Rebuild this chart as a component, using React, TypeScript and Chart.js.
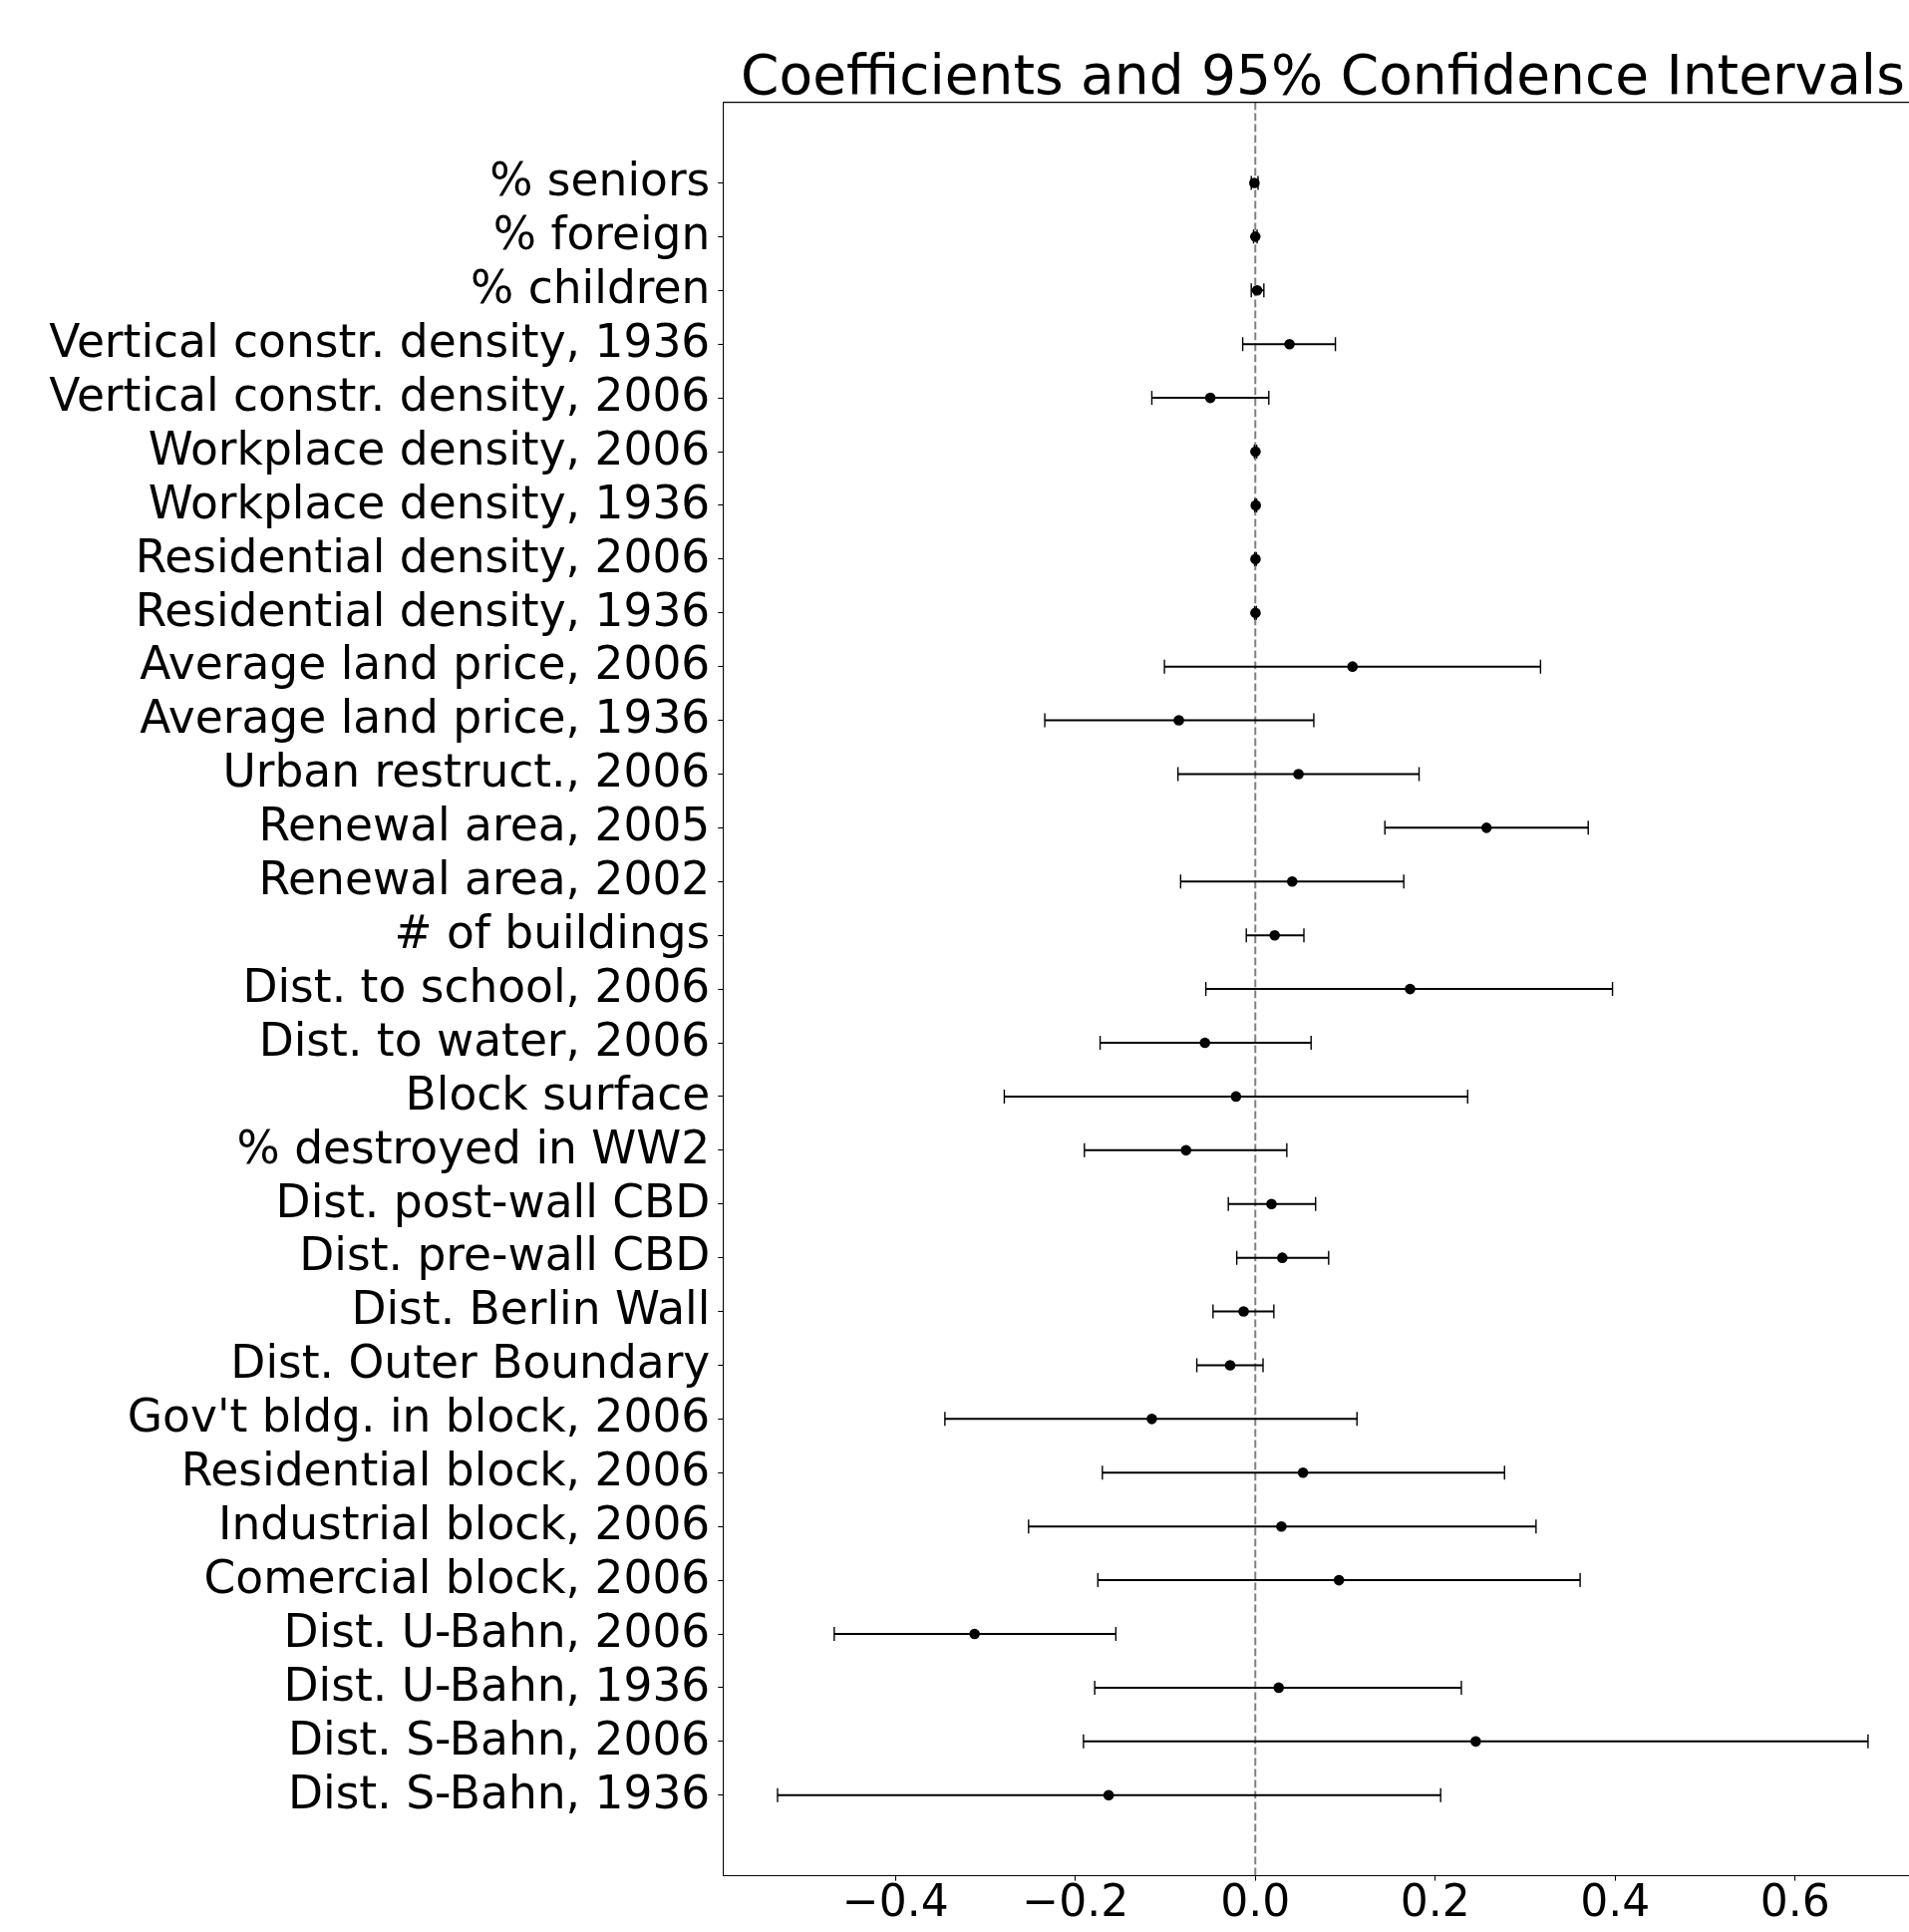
import { useEffect, useRef } from 'react';
import { Chart, registerables } from 'chart.js';

Chart.register(...registerables);

const TITLE = 'Coefficients and 95% Confidence Intervals';

const categories = [
  '% seniors',
  '% foreign',
  '% children',
  'Vertical constr. density, 1936',
  'Vertical constr. density, 2006',
  'Workplace density, 2006',
  'Workplace density, 1936',
  'Residential density, 2006',
  'Residential density, 1936',
  'Average land price, 2006',
  'Average land price, 1936',
  'Urban restruct., 2006',
  'Renewal area, 2005',
  'Renewal area, 2002',
  '# of buildings',
  'Dist. to school, 2006',
  'Dist. to water, 2006',
  'Block surface',
  '% destroyed in WW2',
  'Dist. post-wall CBD',
  'Dist. pre-wall CBD',
  'Dist. Berlin Wall',
  'Dist. Outer Boundary',
  "Gov't bldg. in block, 2006",
  'Residential block, 2006',
  'Industrial block, 2006',
  'Comercial block, 2006',
  'Dist. U-Bahn, 2006',
  'Dist. U-Bahn, 1936',
  'Dist. S-Bahn, 2006',
  'Dist. S-Bahn, 1936',
];

const coefficients = [
  -0.001, 0.0, 0.002, 0.038, -0.05, 0.0002, 0.0005, 0.0002, 0.0002,
  0.108, -0.085, 0.048, 0.257, 0.041, 0.0215, 0.172, -0.056,
  -0.0215, -0.077, 0.018, 0.03, -0.013, -0.028, -0.115,
  0.053, 0.029, 0.093, -0.312, 0.026, 0.245, -0.163,
];

const lowerBounds = [
  -0.0045, -0.002, -0.0045, -0.014, -0.115, -0.001, -0.0005, -0.0008, -0.0008,
  -0.101, -0.234, -0.086, 0.144, -0.083, -0.01, -0.055, -0.1725,
  -0.279, -0.19, -0.03, -0.0206, -0.047, -0.065, -0.345,
  -0.17, -0.252, -0.175, -0.468, -0.1785, -0.191, -0.531,
];

const upperBounds = [
  0.003, 0.002, 0.0095, 0.089, 0.015, 0.0015, 0.0015, 0.0012, 0.0012,
  0.317, 0.065, 0.182, 0.37, 0.165, 0.054, 0.397, 0.062,
  0.236, 0.035, 0.067, 0.0815, 0.0206, 0.0086, 0.113,
  0.277, 0.312, 0.361, -0.155, 0.229, 0.681, 0.206,
];

const xTickValues = [-0.4, -0.2, 0.0, 0.2, 0.4, 0.6];

const FONT = '"DejaVu Sans", sans-serif';

const framePlugin = {
  id: 'frameAndTitle',
  afterDraw(chart: any) {
    const { ctx, chartArea: a } = chart;
    ctx.save();
    ctx.strokeStyle = '#000';
    ctx.lineWidth = 1.1;
    ctx.beginPath();
    ctx.moveTo(a.left, a.top);
    ctx.lineTo(a.right, a.top);
    ctx.lineTo(a.right, a.bottom);
    ctx.stroke();
    ctx.fillStyle = '#000';
    ctx.font = `55px ${FONT}`;
    ctx.textAlign = 'center';
    ctx.textBaseline = 'alphabetic';
    ctx.fillText(TITLE, (a.left + a.right) / 2, a.top - 8.3);
    ctx.restore();
  },
};

export default function App() {
  const ref = useRef<HTMLCanvasElement>(null);

  useEffect(() => {
    const canvas = ref.current;
    if (!canvas) return;

    const lo = Math.min(...lowerBounds);
    const hi = Math.max(...upperBounds);
    const margin = 0.05 * (hi - lo);
    const yMin = -1.5;
    const yMax = categories.length - 1 + 1.5;

    const pointsDataset = {
      label: 'coef',
      data: coefficients.map((c, i) => ({ x: c, y: i })),
      pointRadius: 5.3,
      pointBackgroundColor: '#000',
      pointBorderWidth: 0,
      showLine: false,
    };

    const ciDatasets = categories.map((_, i) => ({
      label: 'ci' + i,
      data: [
        { x: lowerBounds[i], y: i },
        { x: upperBounds[i], y: i },
      ],
      showLine: true,
      borderColor: '#000',
      borderWidth: 2,
      pointStyle: 'line',
      rotation: 90,
      pointRadius: 7,
      pointBorderWidth: 1.4,
      pointBorderColor: '#000',
      pointBackgroundColor: '#000',
    }));

    const zeroLine = {
      label: 'zero',
      data: [
        { x: 0, y: yMin },
        { x: 0, y: yMax },
      ],
      showLine: true,
      borderColor: '#808080',
      borderWidth: 2,
      borderDash: [7.7, 3.3],
      pointRadius: 0,
    };

    const chart = new Chart(canvas, {
      type: 'scatter',
      data: {
        datasets: [pointsDataset, ...ciDatasets, zeroLine] as any,
      },
      options: {
        animation: false,
        responsive: false,
        devicePixelRatio: 1,
        events: [],
        layout: { padding: { top: 102.6, right: 11.4, bottom: 0, left: 0 } },
        plugins: {
          legend: { display: false },
          title: { display: false },
          tooltip: { enabled: false },
        },
        scales: {
          x: {
            type: 'linear',
            min: lo - margin,
            max: hi + margin,
            afterBuildTicks: (scale: any) => {
              scale.ticks = xTickValues.map((v) => ({ value: v }));
            },
            afterFit: (scale: any) => {
              scale.height = 56.4;
            },
            grid: {
              display: true,
              drawOnChartArea: false,
              drawTicks: true,
              tickLength: 5,
              tickWidth: 1.1,
              tickColor: '#000',
            },
            border: { display: true, color: '#000', width: 1.1 },
            ticks: {
              autoSkip: false,
              maxRotation: 0,
              padding: -2,
              color: '#000',
              font: { family: FONT, size: 44 },
              callback: (v: any) => {
                const n = Number(v);
                const s = Math.abs(n).toFixed(1);
                return n < -1e-9 ? '\u2212' + s : s;
              },
            },
          },
          y: {
            type: 'linear',
            reverse: true,
            min: yMin,
            max: yMax,
            afterBuildTicks: (scale: any) => {
              scale.ticks = categories.map((_, i) => ({ value: i }));
            },
            afterFit: (scale: any) => {
              scale.width = 725.3;
            },
            grid: {
              display: true,
              drawOnChartArea: false,
              drawTicks: true,
              tickLength: 5,
              tickWidth: 1.1,
              tickColor: '#000',
            },
            border: { display: true, color: '#000', width: 1.1 },
            ticks: {
              autoSkip: false,
              padding: 8,
              labelOffset: 1,
              color: '#000',
              font: { family: FONT, size: 45.5 },
              callback: (v: any) => categories[Math.round(Number(v))] ?? '',
            },
          },
        },
      },
      plugins: [framePlugin],
    });

    return () => chart.destroy();
  }, []);

  return (
    <div
      style={{
        position: 'fixed',
        left: 0,
        top: 0,
        width: 1915,
        height: 1938,
        overflow: 'hidden',
        background: '#fff',
      }}
    >
      <canvas
        ref={ref}
        width={1940}
        height={1938}
        style={{ display: 'block', width: 1940, height: 1938 }}
      />
    </div>
  );
}
